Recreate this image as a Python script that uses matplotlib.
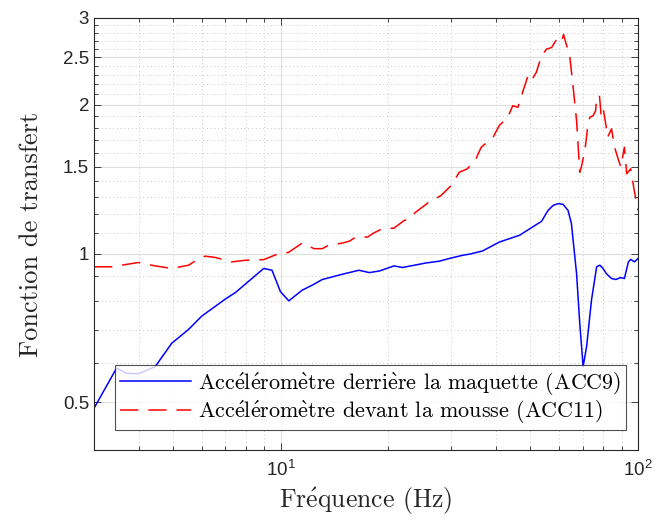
import matplotlib
matplotlib.use("Agg")
import matplotlib.pyplot as plt
from matplotlib.ticker import FixedLocator, FixedFormatter, NullFormatter

# ---- data ----
freq_acc9 = [3.0, 3.47, 3.7, 4.0, 4.45, 4.95, 5.52, 6.01, 7.0, 7.47, 8.96, 9.45, 9.98, 10.53, 11.48,
             12.25, 13.07, 14.87, 16.55, 17.7, 18.9, 20.75, 21.9, 25.5, 27.8, 29.6, 32.3, 33.7, 36.7, 40.9,
             46.6, 50.3, 53.7, 56.0, 57.9, 59.8, 61.7, 63.7, 65.1, 67.3, 68.7, 70.2, 71.8, 74.1, 76.6,
             78.2, 79.8, 81.5, 84.3, 86.7, 89.4, 91.6, 94.0, 95.4, 97.8, 100]
acc9 = [0.486, 0.586, 0.572, 0.571, 0.59, 0.658, 0.702, 0.747, 0.809, 0.834, 0.933, 0.925, 0.837, 0.802, 0.843,
        0.863, 0.886, 0.908, 0.925, 0.915, 0.922, 0.944, 0.937, 0.957, 0.965, 0.977, 0.992, 0.997, 1.012, 1.055,
        1.089, 1.128, 1.162, 1.223, 1.252, 1.262, 1.258, 1.223, 1.15, 0.911, 0.722, 0.590, 0.648, 0.805, 0.940,
        0.947, 0.933, 0.911, 0.890, 0.886, 0.894, 0.890, 0.962, 0.973, 0.962, 0.977]

freq_acc11 = [3.0, 3.36, 3.99, 4.45, 4.95, 5.52, 5.76, 6.14, 6.55, 7.3, 7.96, 8.96, 9.87, 10.5, 11.48,
              12.4, 13.07, 13.6, 14.87, 15.6, 16.2, 17.5, 18.1, 19.1, 20.75, 22.2, 22.6, 23.9, 26.0, 28.1,
              30.0, 31.6, 33.3, 35.2, 36.4, 39.3, 40.9, 43.2, 44.6, 46.1, 47.7, 49.2, 50.3, 51.9, 53.7,
              55.5, 57.3, 59.2, 60.5, 61.2, 61.9, 62.8, 64.3, 65.7, 67.3, 68.7, 69.4, 71.0, 72.3, 73.3,
              74.9, 76.1, 76.6, 78.0, 78.8, 79.8, 81.5, 82.2, 84.3, 86.0, 87.7, 89.5, 91.6, 93.0, 95.4,
              97.6, 100]
acc11 = [0.940, 0.940, 0.959, 0.944, 0.933, 0.947, 0.966, 0.988, 0.982, 0.962, 0.969, 0.972, 1.0, 1.005, 1.05,
         1.023, 1.023, 1.039, 1.05, 1.06, 1.08, 1.08, 1.098, 1.12, 1.126, 1.168, 1.17, 1.214, 1.271, 1.311,
         1.374, 1.461, 1.485, 1.556, 1.642, 1.72, 1.817, 1.888, 1.993, 1.978, 2.139, 2.291, 2.24, 2.327, 2.515,
         2.596, 2.614, 2.716, 2.738, 2.70, 2.78, 2.67, 2.535, 2.205, 1.859, 1.461, 1.497, 1.617, 1.803, 1.888,
         1.903, 1.948, 2.073, 2.089, 1.917, 1.978, 1.803, 1.72, 1.789, 1.642, 1.567, 1.497, 1.642, 1.451, 1.485,
         1.342, 1.223]

label_acc9 = "Accéléromètre derrière la maquette (ACC9)"
label_acc11 = "Accéléromètre devant la mousse (ACC11)"
xlabel = "Fréquence (Hz)"
ylabel = "Fonction de transfert"

x_major = [10, 100]
x_major_labels = [r"$\mathregular{10^{1}}$", r"$\mathregular{10^{2}}$"]
x_minor = [3, 4, 5, 6, 7, 8, 9, 20, 30, 40, 50, 60, 70, 80, 90]
y_major = [0.5, 1, 1.5, 2, 2.5, 3]
y_major_labels = ["0.5", "1", "1.5", "2", "2.5", "3"]
y_minor = [0.4, 0.6, 0.7, 0.8, 0.9, 1.1, 1.2, 1.3, 1.4, 1.6, 1.7, 1.8, 1.9,
           2.1, 2.2, 2.3, 2.4, 2.6, 2.7, 2.8, 2.9]


def tex_accents(s):
    """Render accented letters with Computer Modern accents via mathtext."""
    return (s.replace("é", r"$\acute{\mathrm{e}}$")
             .replace("è", r"$\grave{\mathrm{e}}$"))


# ---- style ----
plt.rcParams['font.family'] = ['Liberation Sans', 'DejaVu Sans']
plt.rcParams['mathtext.fontset'] = 'cm'
serif = ['cmr10', 'DejaVu Serif']
axcol = '#262626'

fig = plt.figure(figsize=(6.58, 5.27), dpi=100)
ax = fig.add_axes([94/658, 77/527, 544/658, 432/527])
ax.set_xscale('log')
ax.set_yscale('log')

ax.plot(freq_acc9, acc9, color=(0, 0, 1), lw=1.1, label=tex_accents(label_acc9))
ax.plot(freq_acc11, acc11, color=(1, 0, 0), lw=1.1, dashes=(12, 6.5), label=tex_accents(label_acc11))

ax.set_xlim(3, 100)
ax.set_ylim(0.4, 3)

ax.xaxis.set_major_locator(FixedLocator(x_major))
ax.xaxis.set_major_formatter(FixedFormatter(x_major_labels))
ax.xaxis.set_minor_locator(FixedLocator(x_minor))
ax.xaxis.set_minor_formatter(NullFormatter())
ax.yaxis.set_major_locator(FixedLocator(y_major))
ax.yaxis.set_major_formatter(FixedFormatter(y_major_labels))
ax.yaxis.set_minor_locator(FixedLocator(y_minor))
ax.yaxis.set_minor_formatter(NullFormatter())

ax.grid(True, which='major', color='#dedede', lw=0.8, ls='-')
ax.grid(True, which='minor', color='#b8b8b8', lw=0.6, ls=(0, (1, 3.5)))
ax.set_axisbelow(True)

ax.tick_params(which='both', direction='in', top=True, right=True, colors=axcol, labelsize=13.5)
ax.tick_params(which='major', length=5, width=0.6)
ax.tick_params(which='minor', length=3, width=0.6)
ax.tick_params(axis='x', pad=7)
for s in ax.spines.values():
    s.set_color(axcol)
    s.set_linewidth(0.8)

ax.set_xlabel(tex_accents(xlabel), family=serif, fontsize=18.5, color=axcol, labelpad=4)
ax.set_ylabel(ylabel, family=serif, fontsize=19, color=axcol, labelpad=14)

leg = ax.legend(loc='lower left', bbox_to_anchor=(0.0386, 0.046), borderaxespad=0,
                prop={'family': serif, 'size': 15.9}, frameon=True, fancybox=False,
                handlelength=3.2, handletextpad=0.35, borderpad=0.22, labelspacing=0.05)
leg.get_frame().set_edgecolor(axcol)
leg.get_frame().set_linewidth(0.8)
leg.set_zorder(5)

fig.savefig('out.png', dpi=100)
